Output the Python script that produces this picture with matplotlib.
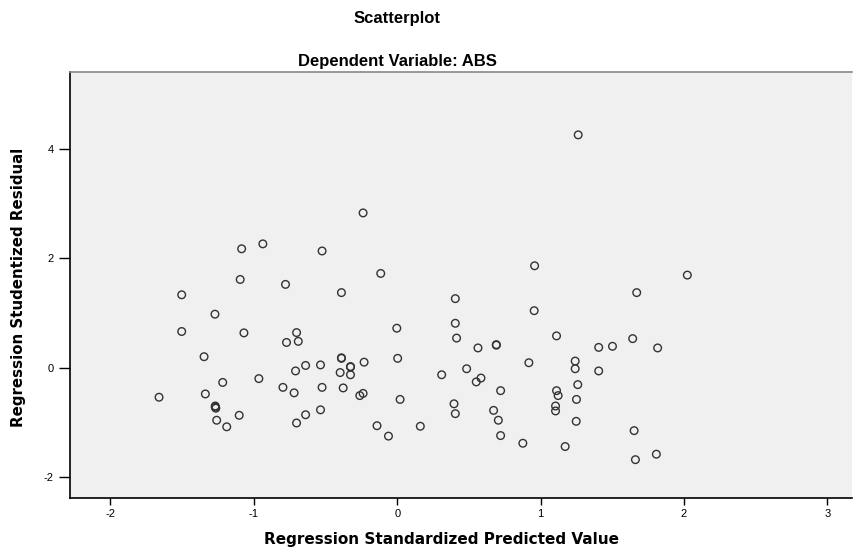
import matplotlib
matplotlib.use("Agg")
import matplotlib.pyplot as plt

plt.rcParams['font.family'] = ['Liberation Sans', 'DejaVu Sans']
plt.rcParams['axes.unicode_minus'] = False

# predicted values (x) and studentized residuals (y)
pred = [-1.085, -0.937, -0.524, -0.238, -1.095, -0.779, -0.389, -1.503,
        -1.271, -1.503, -1.069, -0.702, -0.772, -0.690, -1.347, -0.639,
        -0.535, -0.709, -0.389, -0.389, -0.326, -0.326, -0.398, -0.326,
        -0.231, -0.965, -1.217, -0.797, -0.719, -0.524, -0.377, -1.338,
        -1.661, -0.261, -0.238, -1.269, -1.269, -1.265, -1.102, -1.259,
        -1.189, -0.639, -0.702, -0.535,
        0.405, 0.955, -0.003, 0.405, 0.414, 1.111, 0.563, 0.691, 0.691,
        0.003, 0.918, 1.241, 1.241, 1.405, 1.405, 0.310, 0.484, 0.584,
        0.551, 0.020, 0.721, 1.111, 1.122, 1.259, 1.250, 0.396, 0.405,
        0.672, 0.705, 1.104, 1.104, 1.248, -0.141, -0.061, 0.161, 0.721,
        0.876, 1.171,
        1.262, -0.115, 0.958, 2.023, 1.670, 1.501, 1.642, 1.816, 1.652,
        1.661, 1.807]
resid = [2.17, 2.26, 2.13, 2.825, 1.61, 1.52, 1.37, 1.33,
         0.976, 0.66, 0.635, 0.64, 0.46, 0.48, 0.20, 0.04,
         0.05, -0.06, 0.18, 0.17, 0.01, 0.02, -0.09, -0.13,
         0.10, -0.20, -0.27, -0.36, -0.46, -0.36, -0.37, -0.48,
         -0.54, -0.51, -0.47, -0.70, -0.72, -0.74, -0.87, -0.96,
         -1.08, -0.86, -1.01, -0.77,
         1.26, 1.04, 0.72, 0.81, 0.54, 0.58, 0.36, 0.42, 0.41,
         0.17, 0.09, 0.12, -0.02, 0.37, -0.06, -0.13, -0.02, -0.19,
         -0.26, -0.58, -0.42, -0.42, -0.51, -0.31, -0.58, -0.66, -0.84,
         -0.78, -0.96, -0.70, -0.79, -0.98, -1.06, -1.25, -1.07, -1.24,
         -1.38, -1.44,
         4.25, 1.72, 1.86, 1.69, 1.37, 0.39, 0.53, 0.36, -1.15,
         -1.68, -1.58]

xticks = [-2, -1, 0, 1, 2, 3]
yticks = [-2, 0, 2, 4]

fig = plt.figure(figsize=(8.56, 5.52), dpi=100)
ax = fig.add_axes([0.0821, 0.0978, 0.913, 0.771])
ax.set_facecolor('#f0f0f0')

ax.scatter(pred, resid, s=30, facecolors='none', edgecolors='#333333',
           linewidths=1.0, marker='o')

ax.set_xlim(-2.28, 3.17)
ax.set_ylim(-2.38, 5.39)
ax.set_xticks(xticks)
ax.set_yticks(yticks)
ax.tick_params(axis='x', direction='out', length=5, width=1, labelsize=8, pad=3)
ax.tick_params(axis='y', direction='out', length=8, width=1, labelsize=8, pad=4)

ax.spines['left'].set_color('black')
ax.spines['bottom'].set_color('black')
ax.spines['top'].set_color('#888888')
ax.spines['right'].set_visible(False)
for s in ['left', 'bottom', 'top']:
    ax.spines[s].set_linewidth(1.2)

# axis titles
fig.text(0.516, 0.022, 'Regression Standardized Predicted Value',
         ha='center', va='center', fontsize=11, fontweight='bold',
         family='DejaVu Sans')
fig.text(0.022, 0.48, 'Regression Studentized Residual', rotation=90,
         ha='center', va='center', fontsize=10.8, fontweight='bold',
         family='DejaVu Sans')

fig.text(0.464, 0.966, 'Scatterplot', ha='center', va='center',
         fontsize=12, fontweight='bold')
fig.text(0.464, 0.889, 'Dependent Variable: ABS', ha='center', va='center',
         fontsize=12, fontweight='bold')

fig.savefig('out.png', dpi=100)
